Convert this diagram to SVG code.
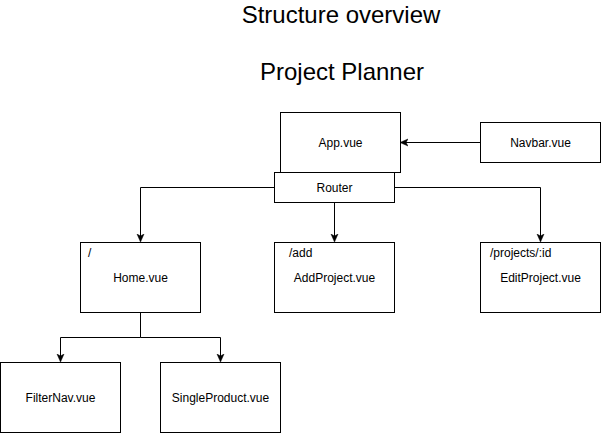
<svg xmlns="http://www.w3.org/2000/svg" width="601" height="433" viewBox="0 0 601 433">
<style>
.box{fill:#fff;stroke:#000;stroke-width:1}
.t{font-family:"Liberation Sans",Arial,sans-serif;font-size:12px;fill:#000}
.c{text-anchor:middle}
.title{font-family:"Liberation Sans",Arial,sans-serif;font-size:24px;fill:#000;text-anchor:middle}
.edge{fill:none;stroke:#000;stroke-width:1}
</style>
<defs>
<marker id="arr" markerWidth="10" markerHeight="10" refX="7" refY="4" orient="auto" markerUnits="userSpaceOnUse">
<path d="M0,0.5 L8,4 L0,7.5 L2,4 Z" fill="#000" stroke="#000" stroke-width="0.5"/>
</marker>
</defs>
<text class="title" x="341" y="23">Structure overview</text>
<text class="title" x="342" y="80">Project Planner</text>
<g id="connectors">
<path class="edge" d="M480,142.5 L401,142.5" marker-end="url(#arr)"/>
<path class="edge" d="M274,187.5 L140.5,187.5 L140.5,241" marker-end="url(#arr)"/>
<path class="edge" d="M334.5,202 L334.5,241" marker-end="url(#arr)"/>
<path class="edge" d="M394,187.5 L540.5,187.5 L540.5,241" marker-end="url(#arr)"/>
<path class="edge" d="M140.5,312 L140.5,337.5 L60.5,337.5 L60.5,361" marker-end="url(#arr)"/>
<path class="edge" d="M140.5,337.5 L220.5,337.5 L220.5,361" marker-end="url(#arr)"/>
</g>
<g id="app"><rect class="box" x="280.5" y="112.5" width="120" height="60"/><text class="t c" x="340.5" y="146.5">App.vue</text></g>
<g id="navbar"><rect class="box" x="480.5" y="122.5" width="120" height="40"/><text class="t c" x="540.5" y="146.5">Navbar.vue</text></g>
<g id="router"><rect class="box" x="274.5" y="172.5" width="120" height="30"/><text class="t c" x="334.5" y="191.5">Router</text></g>
<g id="home"><rect class="box" x="80.5" y="242.5" width="120" height="70"/><text class="t" x="88" y="257">/</text><text class="t c" x="140.5" y="281.5">Home.vue</text></g>
<g id="addproject"><rect class="box" x="274.5" y="242.5" width="120" height="70"/><text class="t" x="289" y="257">/add</text><text class="t c" x="334.5" y="281.5">AddProject.vue</text></g>
<g id="editproject"><rect class="box" x="480.5" y="242.5" width="120" height="70"/><text class="t" x="490" y="257">/projects/:id</text><text class="t c" x="540.5" y="281.5">EditProject.vue</text></g>
<g id="filternav"><rect class="box" x="0.5" y="362.5" width="120" height="70"/><text class="t c" x="60.5" y="401.5">FilterNav.vue</text></g>
<g id="singleproduct"><rect class="box" x="160.5" y="362.5" width="120" height="70"/><text class="t c" x="220.5" y="401.5">SingleProduct.vue</text></g>
</svg>
